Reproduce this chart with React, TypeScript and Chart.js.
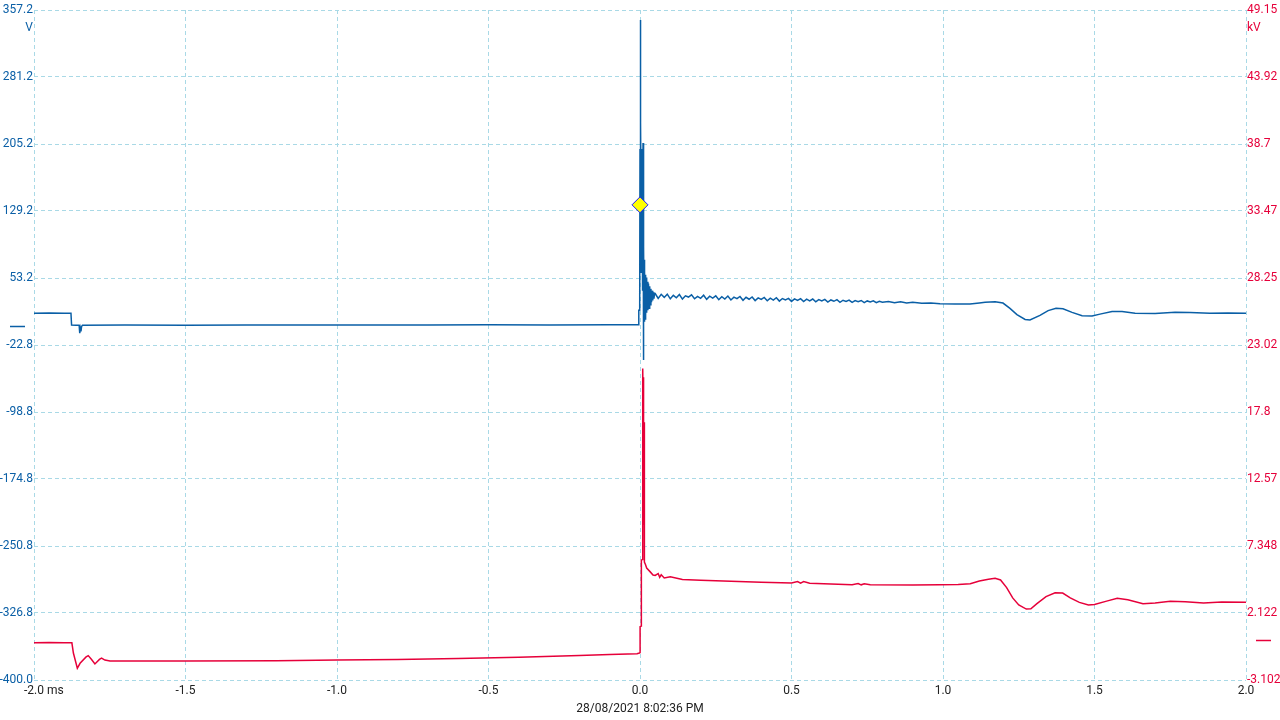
import React, { useEffect, useRef } from "react";
import { Chart, registerables } from "chart.js";

Chart.register(...registerables);

// ---- Axis definitions ----
const xMin = -2.0;
const xMax = 2.0;
const xTickLabels = ["-2.0", "-1.5", "-1.0", "-0.5", "0.0", "0.5", "1.0", "1.5", "2.0"];
const xUnit = "ms";

const leftMin = -400.0;
const leftMax = 357.2;
const leftTickLabels = ["-400.0", "-326.8", "-250.8", "-174.8", "-98.8", "-22.8", "53.2", "129.2", "205.2", "281.2", "357.2"];
const leftUnit = "V";

const rightMin = -3.102;
const rightMax = 49.15;
const rightTickLabels = ["-3.102", "2.122", "7.348", "12.57", "17.8", "23.02", "28.25", "33.47", "38.7", "43.92", "49.15"];
const rightUnit = "kV";

const timestamp = "28/08/2021 8:02:36 PM";

// ---- Channel A (V) ----
const timeA = [
  -2.0, -1.95, -1.9, -1.878, -1.876, -1.862, -1.851, -1.849, -1.847, -1.845, -1.843, -1.84,
  -1.7, -1.5, -1.3, -1.1, -0.9, -0.7, -0.5, -0.3, -0.1, -0.006, -0.004, -0.002,
  -0.001, 0.0, 0.0005, 0.001, 0.0015, 0.002, 0.0025, 0.003, 0.0035, 0.004, 0.0045, 0.005,
  0.0055, 0.006, 0.0065, 0.007, 0.0075, 0.008, 0.0085, 0.009, 0.0095, 0.01, 0.0105, 0.011,
  0.0115, 0.012, 0.0125, 0.013, 0.0135, 0.014, 0.015, 0.016, 0.017, 0.018, 0.019, 0.02,
  0.021, 0.022, 0.023, 0.024, 0.026, 0.028, 0.03, 0.032, 0.034, 0.036, 0.038, 0.04,
  0.042, 0.044, 0.046, 0.048,
  0.05, 0.06, 0.07, 0.08, 0.09, 0.1, 0.11, 0.12, 0.13, 0.14, 0.15, 0.16, 0.17, 0.18,
  0.19, 0.2, 0.21, 0.22, 0.23, 0.24, 0.25, 0.26, 0.27, 0.28, 0.29, 0.3, 0.31, 0.32,
  0.33, 0.34, 0.35, 0.36, 0.37, 0.38, 0.39, 0.4, 0.41, 0.42, 0.43, 0.44, 0.45, 0.46,
  0.47, 0.48, 0.49, 0.5, 0.51, 0.52, 0.53, 0.54, 0.55, 0.56, 0.57, 0.58, 0.59, 0.6,
  0.61, 0.62, 0.63, 0.64, 0.65, 0.66, 0.67, 0.68, 0.69, 0.7, 0.71, 0.72, 0.73, 0.74,
  0.75, 0.76, 0.77, 0.78, 0.79, 0.8, 0.82, 0.84, 0.86, 0.88, 0.9, 0.93, 0.96, 0.99,
  1.04, 1.089, 1.12, 1.139, 1.172, 1.198, 1.221, 1.244, 1.271, 1.287, 1.32, 1.347,
  1.373, 1.396, 1.426, 1.459, 1.492, 1.518, 1.558, 1.591, 1.634, 1.7, 1.766, 1.815,
  1.881, 1.94, 2.0,
];
const voltsA = [
  14.6, 14.8, 14.6, 14.6, 1.2, 1.0, 1.0, -8.0, -2.5, -6.0, -0.5, 1.0,
  1.2, 1.0, 1.3, 1.1, 1.3, 1.2, 1.4, 1.2, 1.5, 1.6, 18.0, 18.0,
  20.0, 200.0, 345.9, 250.0, 60.0, 300.0, 110.0, 230.0, 150.0, 200.0, 100.0, 190.0,
  120.0, 175.0, 60.0, 170.0, 100.0, 160.0, 40.0, 150.0, 70.0, 206.9, 80.0, 190.0,
  0.0, 120.0, -38.4, 90.0, 10.0, 75.0, 5.0, 62.0, 8.0, 58.0, 12.0, 55.0,
  15.0, 52.0, 16.0, 50.0, 18.0, 48.0, 20.0, 45.0, 24.0, 42.0, 27.0, 40.0,
  29.0, 38.0, 31.0, 37.0,
  36.8, 31.2, 35.9, 32.4, 36.1, 30.8, 34.7, 31.9, 35.6, 30.5, 34.2, 32.8, 35.3, 30.9,
  33.6, 31.4, 34.9, 30.2, 33.8, 31.7, 34.1, 29.8, 33.2, 30.6, 33.9, 29.5, 32.7, 30.9,
  33.4, 29.1, 32.5, 30.3, 32.9, 28.8, 31.8, 30.1, 32.4, 28.6, 31.5, 29.4, 32.0, 28.2,
  31.1, 29.6, 31.3, 27.9, 30.8, 28.9, 31.0, 27.7, 30.4, 28.5, 30.6, 27.4, 29.9, 28.3,
  30.2, 27.1, 29.5, 28.0, 29.8, 26.9, 29.2, 27.8, 29.4, 26.7, 28.8, 27.5, 28.9, 26.5,
  28.4, 27.3, 28.6, 26.4, 28.0, 27.0, 27.8, 26.3, 27.4, 26.2, 26.9, 25.8, 26.1, 25.2,
  24.8, 24.9, 26.2, 27.0, 27.6, 26.0, 20.0, 13.0, 7.5, 6.9, 12.0, 17.5,
  20.1, 19.5, 15.5, 11.6, 11.4, 13.5, 16.5, 16.5, 14.6, 14.2, 15.5, 15.2,
  14.5, 14.8, 14.6,
];

// ---- Channel B (kV) ----
const timeB = [
  -2.0, -1.95, -1.9, -1.875, -1.87, -1.857, -1.848, -1.828, -1.821, -1.81, -1.799, -1.784,
  -1.777, -1.766, -1.749, -1.5, -1.2, -1.0, -0.8, -0.6, -0.4, -0.2, -0.1, -0.01,
  -0.002, 0.0, 0.0003, 0.004, 0.0045, 0.008, 0.0085, 0.009, 0.0095, 0.01, 0.0105, 0.011,
  0.0115, 0.012, 0.0125, 0.013, 0.0135, 0.014, 0.0145, 0.015, 0.018, 0.022, 0.033, 0.043,
  0.05, 0.06, 0.065, 0.07, 0.08, 0.1, 0.14, 0.2, 0.3, 0.4, 0.5, 0.52, 0.53, 0.54, 0.56,
  0.7, 0.72, 0.73, 0.74, 0.76, 0.9, 0.99, 1.05, 1.09, 1.12, 1.15, 1.172, 1.19, 1.21, 1.23, 1.25,
  1.275, 1.29, 1.31, 1.34, 1.37, 1.395, 1.42, 1.45, 1.48, 1.5, 1.54, 1.575,
  1.61, 1.66, 1.7, 1.75, 1.8, 1.86, 1.92, 2.0,
];
const kvoltsB = [
  -0.2, -0.18, -0.2, -0.2, -1.0, -2.19, -1.8, -1.3, -1.2, -1.5, -1.85, -1.5,
  -1.4, -1.55, -1.62, -1.62, -1.6, -1.55, -1.5, -1.42, -1.33, -1.2, -1.12, -1.05,
  -1.0, -0.95, 1.06, 1.1, 6.25, 6.3, 13.0, 13.0, 21.2, 19.0, 20.5, 14.0,
  20.0, 11.0, 19.0, 9.0, 17.0, 7.0, 12.0, 6.1, 5.9, 5.63, 5.35, 5.09,
  5.05, 5.2, 4.9, 5.1, 4.85, 4.95, 4.74, 4.67, 4.6, 4.52, 4.47, 4.58, 4.45, 4.57, 4.44,
  4.33, 4.42, 4.32, 4.4, 4.32, 4.3, 4.33, 4.35, 4.4, 4.62, 4.75, 4.83, 4.7, 4.1, 3.3, 2.75,
  2.43, 2.45, 2.85, 3.4, 3.7, 3.68, 3.3, 2.95, 2.74, 2.78, 3.05, 3.27,
  3.15, 2.85, 2.9, 3.04, 3.0, 2.9, 2.98, 2.97,
];

// ---- Trigger marker ----
const triggerTime = [0.0];
const triggerVolts = [137.0];

const BLUE = "#0a5fa6";
const RED = "#e6003a";
const GRID = "#a9d9e6";
const FONT = "Roboto";

function evenTicks(min: number, max: number, n: number) {
  const out: { value: number }[] = [];
  for (let i = 0; i < n; i++) out.push({ value: min + (i * (max - min)) / (n - 1) });
  return out;
}

const overlayPlugin = {
  id: "scopeOverlay",
  afterDraw(chart: any) {
    const ctx = chart.ctx;
    const area = chart.chartArea;
    const yL = chart.scales.y;
    const yR = chart.scales.y2;
    ctx.save();
    ctx.font = `12px ${FONT}`;
    ctx.textBaseline = "middle";
    ctx.fillStyle = BLUE;
    ctx.textAlign = "right";
    ctx.fillText(leftUnit, area.left - 1, 28);
    ctx.fillStyle = RED;
    ctx.textAlign = "left";
    ctx.fillText(rightUnit, area.right + 1, 28);
    ctx.fillStyle = "#222";
    ctx.textAlign = "left";
    const w = ctx.measureText(xTickLabels[0]).width;
    ctx.fillText(xUnit, area.left + w / 2 + 3, 691);
    ctx.textAlign = "center";
    ctx.fillText(timestamp, (area.left + area.right) / 2, 709);
    ctx.lineWidth = 1.5;
    ctx.strokeStyle = BLUE;
    const y0 = Math.round(yL.getPixelForValue(0)) + 0.5;
    ctx.beginPath();
    ctx.moveTo(10, y0);
    ctx.lineTo(25, y0);
    ctx.stroke();
    ctx.strokeStyle = RED;
    const y1 = Math.round(yR.getPixelForValue(0)) + 0.5;
    ctx.beginPath();
    ctx.moveTo(1256, y1);
    ctx.lineTo(1271, y1);
    ctx.stroke();
    ctx.restore();
  },
};

export default function App() {
  const canvasRef = useRef<HTMLCanvasElement | null>(null);

  useEffect(() => {
    if (!canvasRef.current) return;
    const dataA = timeA.map((t, i) => ({ x: t, y: voltsA[i] }));
    const dataB = timeB.map((t, i) => ({ x: t, y: kvoltsB[i] }));
    const dataT = triggerTime.map((t, i) => ({ x: t, y: triggerVolts[i] }));

    const chart = new Chart(canvasRef.current, {
      type: "line",
      data: {
        datasets: [
          {
            label: "Trigger",
            data: dataT,
            yAxisID: "y",
            showLine: false,
            pointStyle: "rectRot",
            pointRadius: 8,
            pointBackgroundColor: "#ffff00",
            pointBorderColor: "#1a1aff",
            pointBorderWidth: 1,
            order: 0,
          },
          {
            label: "A",
            data: dataA,
            yAxisID: "y",
            borderColor: BLUE,
            borderWidth: 1.5,
            pointRadius: 0,
            tension: 0,
            order: 1,
          },
          {
            label: "B",
            data: dataB,
            yAxisID: "y2",
            borderColor: RED,
            borderWidth: 1.5,
            pointRadius: 0,
            tension: 0,
            order: 2,
          },
        ] as any,
      },
      options: {
        animation: false,
        responsive: true,
        maintainAspectRatio: false,
        layout: { padding: { top: 10, left: 0, right: 0, bottom: 0 } },
        plugins: { legend: { display: false }, tooltip: { enabled: false }, title: { display: false } },
        events: [],
        scales: {
          x: {
            type: "linear",
            min: xMin,
            max: xMax,
            afterBuildTicks: (scale: any) => {
              scale.ticks = evenTicks(xMin, xMax, xTickLabels.length);
            },
            afterFit: (scale: any) => {
              scale.height = 40;
            },
            ticks: {
              autoSkip: false,
              maxRotation: 0,
              padding: 4,
              color: "#222",
              font: { family: FONT, size: 12 },
              callback: (_v: any, i: number) => xTickLabels[i],
            },
            grid: { color: GRID, lineWidth: 1, drawTicks: false, borderDash: [4, 3] } as any,
            border: { display: false, dash: [4, 3] },
          },
          y: {
            type: "linear",
            position: "left",
            min: leftMin,
            max: leftMax,
            afterBuildTicks: (scale: any) => {
              scale.ticks = evenTicks(leftMin, leftMax, leftTickLabels.length);
            },
            afterFit: (scale: any) => {
              scale.width = 34;
            },
            ticks: {
              autoSkip: false,
              padding: 1,
              color: BLUE,
              font: { family: FONT, size: 12 },
              callback: (_v: any, i: number) => leftTickLabels[i],
            },
            grid: { color: GRID, lineWidth: 1, drawTicks: false, borderDash: [4, 3] } as any,
            border: { display: false, dash: [4, 3] },
          },
          y2: {
            type: "linear",
            position: "right",
            min: rightMin,
            max: rightMax,
            afterBuildTicks: (scale: any) => {
              scale.ticks = evenTicks(rightMin, rightMax, rightTickLabels.length);
            },
            afterFit: (scale: any) => {
              scale.width = 34;
            },
            ticks: {
              autoSkip: false,
              padding: 1,
              color: RED,
              font: { family: FONT, size: 12 },
              callback: (_v: any, i: number) => rightTickLabels[i],
            },
            grid: { display: false, drawOnChartArea: false, drawTicks: false },
            border: { display: false },
          },
        },
      } as any,
      plugins: [overlayPlugin],
    });
    return () => chart.destroy();
  }, []);

  return (
    <div style={{ position: "absolute", left: 0, top: 0, width: 1280, height: 720, background: "#fff" }}>
      <canvas ref={canvasRef} />
    </div>
  );
}
